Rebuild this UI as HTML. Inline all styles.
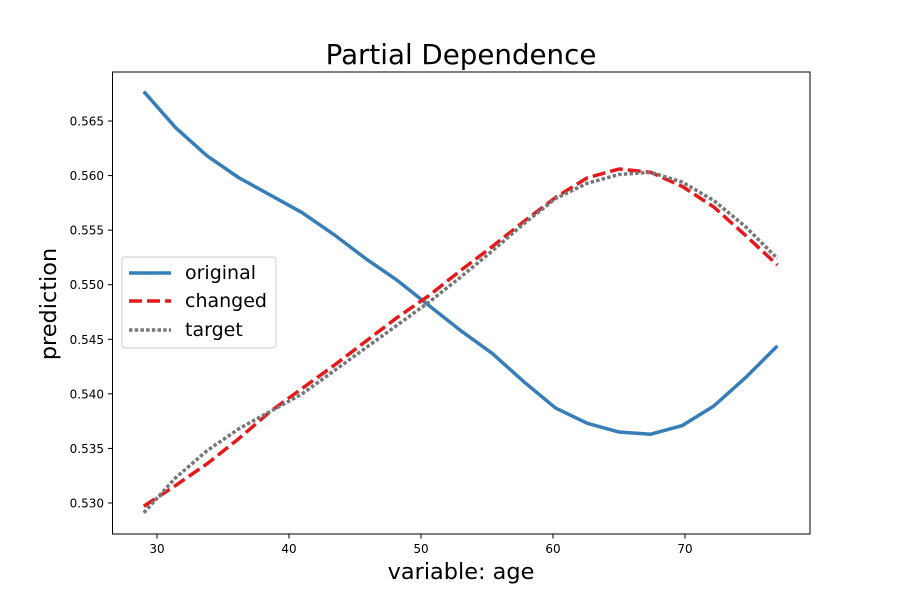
<!DOCTYPE html>
<html><head><meta charset="utf-8"><style>
body{margin:0;background:#fff;}
svg text{font-family:"DejaVu Sans","Liberation Sans",sans-serif;}
</style></head><body>
<svg id="chart" width="900" height="600" xmlns="http://www.w3.org/2000/svg">
<rect width="900" height="600" fill="#fff"/>
<text x="461" y="64" font-size="27.7" text-anchor="middle">Partial Dependence</text>
<g id="xticks"></g>
<g id="yticks"></g>
<g id="series"></g>
<rect x="112.5" y="72" width="697.5" height="462" fill="none" stroke="#000" stroke-width="1"/>
<text x="461" y="579" font-size="22.4" text-anchor="middle">variable: age</text>
<text x="0" y="0" font-size="22.4" text-anchor="middle" transform="translate(56,304) rotate(-90)">prediction</text>
<g>
<rect x="122" y="257" width="154" height="91" rx="3" fill="#fff" fill-opacity="0.8" stroke="#ccc"/>
<g><line x1="129" y1="273" x2="171" y2="273" stroke="#377eb8" stroke-width="3.5"/><text x="185" y="279" font-size="19">original</text></g>
<g><line x1="129" y1="301" x2="171" y2="301" stroke="#e41a1c" stroke-width="3.5" stroke-dasharray="13,5"/><text x="185" y="307" font-size="19">changed</text></g>
<g><line x1="129" y1="330" x2="171" y2="330" stroke="#777" stroke-width="3.5" stroke-dasharray="3.5,2.2"/><text x="185" y="336" font-size="19">target</text></g>
</g>
</svg>
<script>
const ages=[29,31.4,33.8,36.2,38.6,41,43.4,45.8,48.2,50.6,53,55.4,57.8,60.2,62.6,65,67.4,69.8,72.2,74.6,77];
const originalVals=[0.5677,0.5644,0.5618,0.5598,0.5582,0.5566,0.5546,0.5524,0.5504,0.5481,0.5458,0.5437,0.5411,0.5387,0.5373,0.5365,0.5363,0.5371,0.5389,0.5415,0.5444];
const changedVals=[0.5297,0.5316,0.5336,0.5359,0.5384,0.5405,0.5426,0.5448,0.5470,0.5490,0.5513,0.5535,0.5558,0.5580,0.5598,0.5606,0.5603,0.5590,0.5571,0.5545,0.5518];
const targetVals=[0.5291,0.5323,0.5348,0.5368,0.5384,0.5400,0.5421,0.5442,0.5463,0.5484,0.5507,0.5531,0.5556,0.5579,0.5593,0.5601,0.5603,0.5594,0.5577,0.5553,0.5524];
const xTicks=[30,40,50,60,70];
const yTicks=[0.530,0.535,0.540,0.545,0.550,0.555,0.560,0.565];
const NS="http://www.w3.org/2000/svg";
const xs=v=>157+(v-30)*13.2;
const ys=v=>121+(0.565-v)*10914;
function mk(tag,attrs,parent){const e=document.createElementNS(NS,tag);for(const k in attrs)e.setAttribute(k,attrs[k]);parent.appendChild(e);return e;}
const gx=document.getElementById('xticks'),gy=document.getElementById('yticks'),gs=document.getElementById('series');
xTicks.forEach(t=>{const x=xs(t);
 const l=mk('line',{x1:x,y1:534,x2:x,y2:538.5,stroke:'#000'},gx);
 
 
 const tx=mk('text',{x:x,y:553,'font-size':12,'text-anchor':'middle'},gx);tx.textContent=t;
 
 
});
yTicks.forEach(t=>{const y=ys(t);
 const l=mk('line',{x1:108,y1:y,x2:112.5,y2:y,stroke:'#000'},gy);
 
 
 const tx=mk('text',{x:104,y:y+4.5,'font-size':12,'text-anchor':'end'},gy);tx.textContent=t.toFixed(3);
 
 
});
function line(vals,color,dash,name){
 const p=mk('polyline',{points:ages.map((a,i)=>xs(a)+','+ys(vals[i])).join(' '),fill:'none',stroke:color,'stroke-width':3.5,'stroke-dasharray':dash,'stroke-linejoin':'round'},gs);
 
 
}
line(originalVals,'#377eb8','none','original-line');
line(changedVals,'#e41a1c','13,5','changed-line');
line(targetVals,'#777777','3.5,2.2','target-line');
</script>
</body></html>
